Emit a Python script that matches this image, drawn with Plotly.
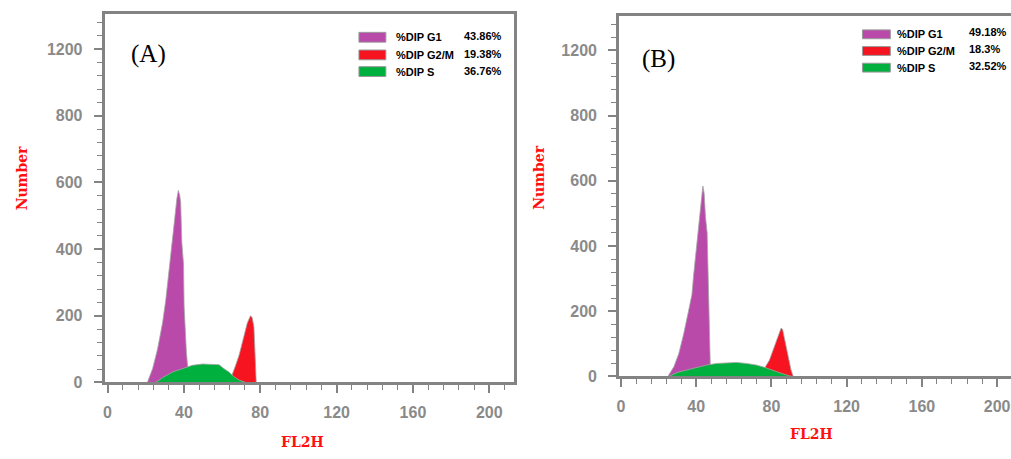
import plotly.graph_objects as go

W, H = 1011, 459

# ---------------- data ----------------
# Panel A
a_g1_x = [20.9, 23.6, 26.2, 28.8, 30.5, 32.3, 34.0, 35.2, 36.3, 37.1, 37.8, 38.3, 38.9, 39.8, 40.1, 40.6, 41.3, 42.0, 42.3]
a_g1_y = [0, 41, 100, 178, 247, 335, 424, 492, 551, 576, 561, 540, 420, 355, 230, 169, 90, 46, 0]
a_g2_x = [63.8, 65.0, 67.1, 68.9, 71.5, 73.2, 74.9, 75.8, 76.7, 77.2, 77.5, 77.9]
a_g2_y = [0, 21, 51, 81, 140, 178, 200, 194, 165, 106, 40, 0]
a_s_x = [25.3, 28.8, 34.0, 39.2, 44.4, 49.7, 54.9, 58.4, 61.0, 63.6, 66.2, 68.9, 72.3]
a_s_y = [0, 14, 31, 41, 51, 55, 55, 53, 41, 31, 17, 7, 0]

# Panel B
b_g1_x = [24.9, 28.1, 30.7, 33.3, 35.9, 37.7, 38.6, 40.0, 41.2, 42.1, 43.0, 43.5, 44.2, 44.9, 45.8, 46.5, 47.1, 47.6]
b_g1_y = [0, 30, 70, 130, 201, 251, 311, 392, 462, 512, 557, 584, 562, 490, 440, 240, 50, 0]
b_g2_x = [75.8, 76.8, 78.9, 80.7, 82.5, 83.8, 85.1, 85.9, 86.8, 88.6, 90.4, 91.6]
b_g2_y = [0, 30, 50, 80, 110, 130, 148, 145, 120, 70, 20, 0]
b_s_x = [25.4, 29.8, 35.1, 40.4, 45.6, 50.9, 56.2, 61.4, 66.7, 71.9, 76.3, 80.7, 85.1, 89.5, 91.2]
b_s_y = [0, 12, 20, 28, 35, 40, 42, 43, 40, 35, 28, 18, 10, 2, 0]

phase_labels = ["%DIP G1", "%DIP G2/M", "%DIP S"]
a_percent = ["43.86%", "19.38%", "36.76%"]
b_percent = ["49.18%", "18.3%", "32.52%"]

x_tick_vals = [0, 40, 80, 120, 160, 200]
y_tick_vals = [0, 200, 400, 600, 800, 1000]
y_tick_text = ["0", "200", "400", "600", "800", "1200"]

# ---------------- styles ----------------
C_G1 = "#b94aa9"
C_G2 = "#f5141f"
C_S = "#00b03e"
EDGE = "rgba(165,165,165,0.8)"
AX = "#838383"
TICKFONT = dict(family="Liberation Sans", size=16, color="#8a8a8a", weight="bold")

fig = go.Figure()

def add_panel(xs, ys, xa, ya):
    for (x, y), col in zip(xs, ys):
        fig.add_trace(go.Scatter(
            x=x, y=y, mode="lines", fill="tozeroy", fillcolor=col,
            line=dict(color=EDGE, width=1), xaxis=xa, yaxis=ya,
            hoverinfo="skip", showlegend=False))

add_panel([(a_g1_x, a_g1_y), (a_g2_x, a_g2_y), (a_s_x, a_s_y)], [C_G1, C_G2, C_S], "x", "y")
add_panel([(b_g1_x, b_g1_y), (b_g2_x, b_g2_y), (b_s_x, b_s_y)], [C_G1, C_G2, C_S], "x2", "y2")

def px(x):
    return min(1.0, x / W)

def py(y):
    return 1 - y / H

common_x = dict(showline=True, linecolor=AX, linewidth=3, ticks="outside", ticklen=8,
                tickwidth=1.5, tickcolor=AX, tickvals=x_tick_vals, tickfont=TICKFONT,
                ticklabelstandoff=5, ticklabeloverflow="allow", showgrid=False, zeroline=False,
                minor=dict(ticks="outside", ticklen=5, tickwidth=1.2, tickcolor=AX,
                           dtick=8, tick0=0, showgrid=False))
common_y = dict(showline=True, linecolor=AX, linewidth=3, ticks="outside", ticklen=8,
                tickwidth=1.5, tickcolor=AX, tickvals=y_tick_vals, ticktext=y_tick_text,
                tickfont=TICKFONT, ticklabelstandoff=8, showgrid=False, zeroline=False,
                range=[0, 1106],
                minor=dict(ticks="outside", ticklen=5, tickwidth=1.2, tickcolor=AX,
                           dtick=40, tick0=0, showgrid=False))

fig.update_layout(
    width=W, height=H, margin=dict(l=0, r=0, t=0, b=0),
    paper_bgcolor="white", plot_bgcolor="white", showlegend=False,
    xaxis=dict(domain=[px(102), px(513)], range=[-1.5, 213.2], anchor="y", mirror=True, **common_x),
    yaxis=dict(domain=[py(390), py(14)], anchor="x", mirror=True, **common_y),
    xaxis2=dict(domain=[px(618), 1.0], range=[-1.0, 207.4], anchor="y2", mirror=True, **common_x),
    yaxis2=dict(domain=[py(384), py(16)], anchor="x2", mirror=False, **common_y),
)

ann = []
title_font = dict(family="DejaVu Serif", size=14, color="#ff1010", weight="bold")
panel_font = dict(family="Liberation Serif", size=25, color="black")
# panel letters
ann.append(dict(x=px(146), y=py(55), text="(A)", font=panel_font))
ann.append(dict(x=px(657), y=py(60), text="(B)", font=panel_font))
# axis titles
ann.append(dict(x=px(19), y=py(182), text="Number", textangle=-90, font=title_font))
ann.append(dict(x=px(538), y=py(181), text="Number", textangle=-90, font=title_font))
ann.append(dict(x=px(300), y=py(451), text="FL2H", font=title_font))
ann.append(dict(x=px(811), y=py(443), text="FL2H", font=title_font))

leg_font = dict(family="Liberation Sans", size=11, color="black", weight="bold")
shapes = []
colors = [C_G1, C_G2, C_S]
a_rows = [38, 56, 73]
b_rows = [35, 52, 69]
for i in range(3):
    # panel A legend
    shapes.append(dict(type="rect", xref="paper", yref="paper",
                       x0=px(357), x1=px(384), y0=py(a_rows[i] + 5), y1=py(a_rows[i] - 5),
                       fillcolor=colors[i], line=dict(color="#9a9a9a", width=1)))
    ann.append(dict(x=px(392), y=py(a_rows[i]), text=phase_labels[i], xanchor="left", font=leg_font))
    ann.append(dict(x=px(460), y=py(a_rows[i] - 1), text=a_percent[i], xanchor="left", font=leg_font))
    # panel B legend
    shapes.append(dict(type="rect", xref="paper", yref="paper",
                       x0=px(862), x1=px(890), y0=py(b_rows[i] + 4.5), y1=py(b_rows[i] - 4.5),
                       fillcolor=colors[i], line=dict(color="#9a9a9a", width=1)))
    ann.append(dict(x=px(895), y=py(b_rows[i]), text=phase_labels[i], xanchor="left", font=leg_font))
    ann.append(dict(x=px(967), y=py(b_rows[i] - 2), text=b_percent[i], xanchor="left", font=leg_font))

for a in ann:
    a.setdefault("xref", "paper")
    a.setdefault("yref", "paper")
    a.setdefault("showarrow", False)
    a.setdefault("xanchor", "center")
    a.setdefault("yanchor", "middle")

fig.update_layout(annotations=ann, shapes=shapes)

# let the figure fill the window exactly (no default page margin), no modebar
fig.write_html("out.html", config=dict(displayModeBar=False),
               post_script="document.body.style.margin='0px';document.body.style.overflow='hidden';")
